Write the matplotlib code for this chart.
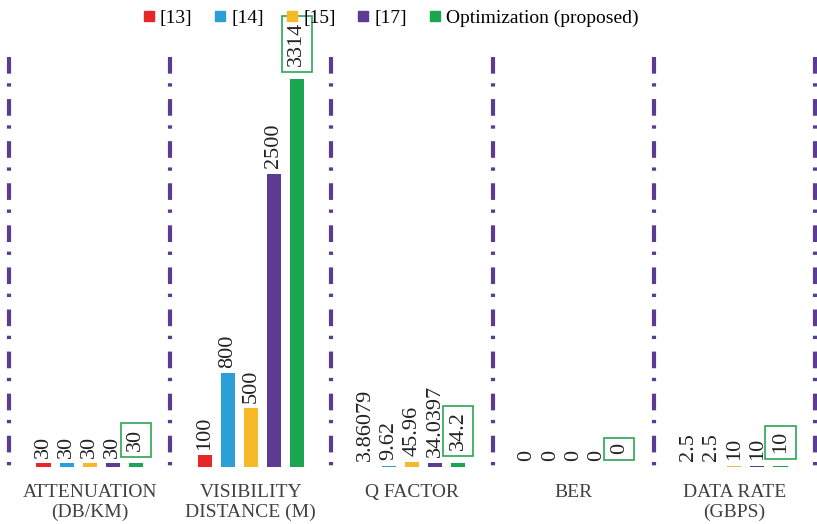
import matplotlib.pyplot as plt
from matplotlib.lines import Line2D
import numpy as np

plt.rcParams['font.family'] = ['Liberation Serif', 'DejaVu Serif']

categories = ["ATTENUATION\n(DB/KM)", "VISIBILITY\nDISTANCE (M)", "Q FACTOR", "BER", "DATA RATE\n(GBPS)"]
series_names = ["[13]", "[14]", "[15]", "[17]", "Optimization (proposed)"]
ref13 = [30, 100, 3.86079, 0, 2.5]
ref14 = [30, 800, 9.62, 0, 2.5]
ref15 = [30, 500, 45.96, 0, 10]
ref17 = [30, 2500, 34.0397, 0, 10]
proposed = [30, 3314, 34.2, 0, 10]

colors = ["#e8262a", "#2a9fd8", "#f7b928", "#5c3c92", "#1aa651"]
series = [ref13, ref14, ref15, ref17, proposed]

fig = plt.figure(figsize=(8.17, 5.24), dpi=100)
# axes: x from 9px to 815px, baseline at 467px
ax = fig.add_axes([9 / 817, 57 / 524, 806 / 817, 457 / 524])
ax.set_xlim(-0.5, 4.5)
ax.set_ylim(0, 3900)

x = np.arange(len(categories))
step = 0.143
width = 0.087
for i, (vals, c) in enumerate(zip(series, colors)):
    xs = x + (i - 2) * step
    ax.bar(xs, vals, width=width, color=c, zorder=2)
    for xx, v in zip(xs, vals):
        if i == 4:
            ax.annotate("%g" % v, (xx, v), xytext=(0, 9), textcoords="offset points",
                        rotation=90, ha="center", va="bottom", fontsize=16, color="#222222",
                        bbox=dict(boxstyle="square,pad=0.25", fc="none", ec="#2aa655", lw=1.2))
        else:
            ax.annotate("%g" % v, (xx, v), xytext=(0, 4), textcoords="offset points",
                        rotation=90, ha="center", va="bottom", fontsize=16, color="#222222")

# dash-dot dividers between groups
trans = ax.get_xaxis_transform()
for d in np.arange(-0.5, 5, 1.0):
    ax.plot([d, d], [0.897, 0], transform=trans, color="#5c3c92", lw=3,
            linestyle=(0, (4, 2.3, 0.8, 3)), solid_capstyle="butt", dash_capstyle="butt",
            clip_on=False, zorder=1)

ax.set_xticks(x)
ax.set_xticklabels(categories, fontsize=14, color="#404040", linespacing=1.2)
ax.tick_params(axis="x", length=0, pad=12)
ax.set_yticks([])
for s in ax.spines.values():
    s.set_visible(False)

handles = [Line2D([], [], marker="s", linestyle="", color=c, markersize=7.5) for c in colors]
fig.legend(handles, series_names, loc="center", bbox_to_anchor=(391 / 817, 1 - 18 / 524),
           ncol=5, frameon=False, fontsize=14, handlelength=0.55, handletextpad=0.3,
           columnspacing=1.15)

fig.savefig("out.png", dpi=100)
